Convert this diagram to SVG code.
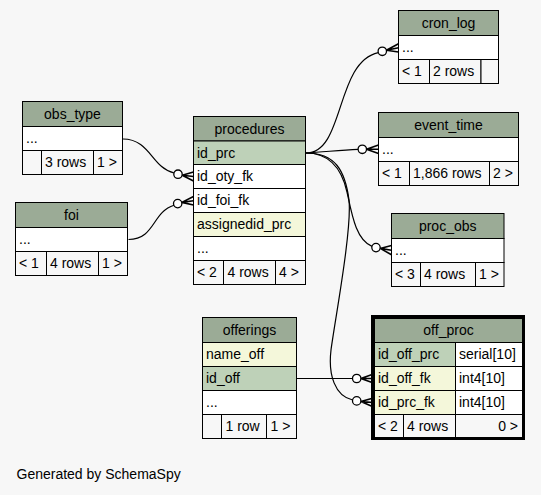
<svg xmlns="http://www.w3.org/2000/svg" width="541" height="495" viewBox="0 0 541 495">
<style>
text{font-family:"Liberation Sans",Arial,sans-serif;font-size:14px;fill:#000}
.c{stroke:#000;stroke-width:1}
.h{fill:#9bab96}
.pk{fill:#bed1b8}
.ix{fill:#f4f7da}
.w{fill:#ffffff}
.f{fill:#f7f7f7}
.m{text-anchor:middle}
.e{text-anchor:end}
.ln{fill:none;stroke:#000;stroke-width:1.2}
.dot{fill:#ffffff;stroke:#000;stroke-width:1.3}
.crow{fill:none;stroke:#000;stroke-width:1.6}
</style>
<rect width="541" height="495" fill="#f7f7f7"/>

<g id="connectors">
<path class="ln" d="M123,139 C150,139 152,168 173.8,172.8"/>
<circle class="dot" cx="178" cy="174.2" r="4.2"/>
<path class="crow" d="M182.2,175.3 L193.5,172 M182.2,175.3 L193.5,176.5 M182.2,175.3 L193.5,181"/>

<path class="ln" d="M128.5,239.5 C155,239.5 152,212 174,205.3"/>
<circle class="dot" cx="177.7" cy="203.6" r="4.2"/>
<path class="crow" d="M181.8,202.4 L193.5,196.5 M181.8,202.4 L193.5,200.8 M181.8,202.4 L193.5,205"/>

<path class="ln" d="M306,153 C345,153 335,62 378.3,52.6"/>
<circle class="dot" cx="382.3" cy="51.3" r="4.2"/>
<path class="crow" d="M386.4,50.3 L398.5,43.8 M386.4,50.3 L398.5,47.8 M386.4,50.3 L398.5,52"/>

<path class="ln" d="M306,153 C325,152 340,150 358,149.4"/>
<circle class="dot" cx="362.3" cy="149.3" r="4.2"/>
<path class="crow" d="M366.5,149.3 L378.5,145 M366.5,149.3 L378.5,149.3 M366.5,149.3 L378.5,153.6"/>

<path class="ln" d="M306,153 C330,153 342,170 347,192 C352,215 356,240 372,246.4"/>
<circle class="dot" cx="376" cy="247.6" r="4.2"/>
<path class="crow" d="M380.2,248.4 L391.5,245.5 M380.2,248.4 L391.5,250.3 M380.2,248.4 L391.5,254.8"/>

<path class="ln" d="M306,153 C335,153 345,170 349,200 C352,230 335,320 331,350 C328,375 335,396 352.6,400"/>
<circle class="dot" cx="356.7" cy="400.9" r="4.2"/>
<path class="crow" d="M360.9,401.6 L373.5,398 M360.9,401.6 L373.5,402.5 M360.9,401.6 L373.5,407"/>

<path class="ln" d="M297,378.5 L352.5,378.5"/>
<circle class="dot" cx="356.7" cy="378.5" r="4.2"/>
<path class="crow" d="M360.9,378.5 L373.5,374 M360.9,378.5 L373.5,378.5 M360.9,378.5 L373.5,383"/>
</g>

<g id="obs_type">
<rect class="c h" x="22.5" y="101.5" width="100" height="25"/>
<rect class="c w" x="22.5" y="126.5" width="100" height="24"/>
<rect class="c f" x="22.5" y="150.5" width="19" height="24"/>
<rect class="c f" x="41.5" y="150.5" width="52" height="24"/>
<rect class="c f" x="93.5" y="150.5" width="29" height="24"/>
<text class="m" x="72.5" y="118.5">obs_type</text>
<text x="26" y="143">...</text>
<text x="45" y="167">3 rows</text>
<text x="97" y="167">1 &gt;</text>
</g>

<g id="foi">
<rect class="c h" x="15.5" y="202.5" width="112" height="25"/>
<rect class="c w" x="15.5" y="227.5" width="112" height="24"/>
<rect class="c f" x="15.5" y="251.5" width="31" height="24"/>
<rect class="c f" x="46.5" y="251.5" width="52" height="24"/>
<rect class="c f" x="98.5" y="251.5" width="29" height="24"/>
<text class="m" x="71.5" y="219.5">foi</text>
<text x="19" y="244">...</text>
<text x="19" y="268">&lt; 1</text>
<text x="50" y="268">4 rows</text>
<text x="102" y="268">1 &gt;</text>
</g>

<g id="procedures">
<rect class="c h" x="193.5" y="116.5" width="112" height="24.5"/>
<rect class="c pk" x="193.5" y="141" width="112" height="23.5"/>
<rect class="c w" x="193.5" y="164.5" width="112" height="24"/>
<rect class="c w" x="193.5" y="188.5" width="112" height="24"/>
<rect class="c ix" x="193.5" y="212.5" width="112" height="24"/>
<rect class="c w" x="193.5" y="236.5" width="112" height="24"/>
<rect class="c f" x="193.5" y="260.5" width="30" height="24"/>
<rect class="c f" x="223.5" y="260.5" width="52" height="24"/>
<rect class="c f" x="275.5" y="260.5" width="30" height="24"/>
<text class="m" x="249.5" y="133.5">procedures</text>
<text x="197" y="157.5">id_prc</text>
<text x="197" y="181">id_oty_fk</text>
<text x="197" y="205">id_foi_fk</text>
<text x="197" y="229">assignedid_prc</text>
<text x="197" y="253">...</text>
<text x="197" y="277">&lt; 2</text>
<text x="227.5" y="277">4 rows</text>
<text x="279" y="277">4 &gt;</text>
</g>

<g id="cron_log">
<rect class="c h" x="398.5" y="10.5" width="100" height="25"/>
<rect class="c w" x="398.5" y="35.5" width="100" height="24"/>
<rect class="c f" x="398.5" y="59.5" width="31" height="24"/>
<rect class="c f" x="429.5" y="59.5" width="51.5" height="24"/>
<rect class="c f" x="481" y="59.5" width="17.5" height="24"/>
<text class="m" x="448.5" y="27.5">cron_log</text>
<text x="402" y="52">...</text>
<text x="402" y="76">&lt; 1</text>
<text x="433" y="76">2 rows</text>
</g>

<g id="event_time">
<rect class="c h" x="378.5" y="112.5" width="140" height="25"/>
<rect class="c w" x="378.5" y="137.5" width="140" height="24"/>
<rect class="c f" x="378.5" y="161.5" width="31" height="24"/>
<rect class="c f" x="409.5" y="161.5" width="80" height="24"/>
<rect class="c f" x="489.5" y="161.5" width="29" height="24"/>
<text class="m" x="448.5" y="129.5">event_time</text>
<text x="382" y="154">...</text>
<text x="382" y="178">&lt; 1</text>
<text x="413" y="178">1,866 rows</text>
<text x="493" y="178">2 &gt;</text>
</g>

<g id="proc_obs">
<rect class="c h" x="391.5" y="213.5" width="112.5" height="25"/>
<rect class="c w" x="391.5" y="238.5" width="112.5" height="24"/>
<rect class="c f" x="391.5" y="262.5" width="29" height="24"/>
<rect class="c f" x="420.5" y="262.5" width="55" height="24"/>
<rect class="c f" x="475.5" y="262.5" width="28.5" height="24"/>
<text class="m" x="447.7" y="230.5">proc_obs</text>
<text x="395" y="255">...</text>
<text x="395" y="279">&lt; 3</text>
<text x="424" y="279">4 rows</text>
<text x="479" y="279">1 &gt;</text>
</g>

<g id="offerings">
<rect class="c h" x="202.5" y="317.5" width="94" height="25"/>
<rect class="c ix" x="202.5" y="342.5" width="94" height="24"/>
<rect class="c pk" x="202.5" y="366.5" width="94" height="24"/>
<rect class="c w" x="202.5" y="390.5" width="94" height="24"/>
<rect class="c f" x="202.5" y="414.5" width="19" height="24"/>
<rect class="c f" x="221.5" y="414.5" width="45" height="24"/>
<rect class="c f" x="266.5" y="414.5" width="30" height="24"/>
<text class="m" x="249.5" y="334.5">offerings</text>
<text x="206" y="359">name_off</text>
<text x="206" y="383">id_off</text>
<text x="206" y="407">...</text>
<text x="225.5" y="431">1 row</text>
<text x="270.5" y="431">1 &gt;</text>
</g>

<g id="off_proc">
<rect class="c h" x="374.5" y="318.5" width="148" height="24"/>
<rect class="c pk" x="374.5" y="342.5" width="81" height="24"/>
<rect class="c w" x="455.5" y="342.5" width="67" height="24"/>
<rect class="c ix" x="374.5" y="366.5" width="81" height="24"/>
<rect class="c w" x="455.5" y="366.5" width="67" height="24"/>
<rect class="c ix" x="374.5" y="390.5" width="81" height="24"/>
<rect class="c w" x="455.5" y="390.5" width="67" height="24"/>
<rect class="c f" x="374.5" y="414.5" width="29" height="23"/>
<rect class="c f" x="403.5" y="414.5" width="52" height="23"/>
<rect class="c f" x="455.5" y="414.5" width="67" height="23"/>
<rect x="372.5" y="316.5" width="151" height="122" fill="none" stroke="#000" stroke-width="3"/>
<text class="m" x="448.5" y="335">off_proc</text>
<text x="378" y="359">id_off_prc</text>
<text x="459" y="359">serial[10]</text>
<text x="378" y="383">id_off_fk</text>
<text x="459" y="383">int4[10]</text>
<text x="378" y="407">id_prc_fk</text>
<text x="459" y="407">int4[10]</text>
<text x="378" y="431">&lt; 2</text>
<text x="407" y="431">4 rows</text>
<text class="e" x="518" y="431">0 &gt;</text>
</g>

<text x="16.5" y="479">Generated by SchemaSpy</text>
</svg>
